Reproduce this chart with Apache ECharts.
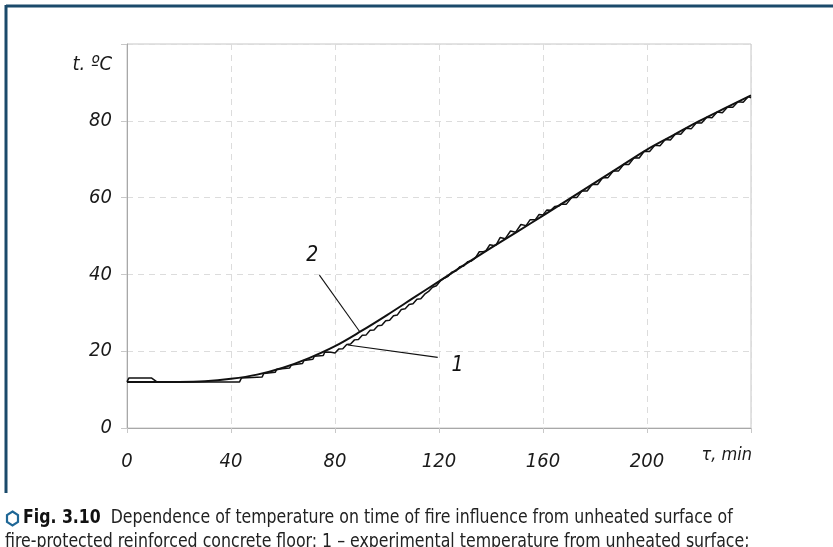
<!DOCTYPE html>
<html><head><meta charset="utf-8">
<script src="https://cdn.jsdelivr.net/npm/echarts@6/dist/echarts.min.js"></script>
<style>html,body{margin:0;padding:0;background:#fff;overflow:hidden}#c{width:833px;height:547px}</style>
</head><body><div id="c"></div>
<script>
// Axis ticks
const xTicks = [0, 40, 80, 120, 160, 200, 240];
const yTicks = [0, 20, 40, 60, 80, 100];
// Curve 2 – calculated temperature (time, °C)
const calcTime = [0,10,20,30,40,50,60,70,80,90,100,110,120,130,140,150,160,170,180,190,200,210,220,230,240];
const calcTemp = [12,12,12.0,12.15,12.8,13.9,15.7,18.2,21.3,25.2,29.4,33.8,38.2,42.6,46.9,51.1,55.3,59.6,63.9,68.2,72.5,76.2,79.9,83.3,86.6];
// Curve 1 – experimental temperature (time, °C)
const expTime = [0,0.7,9.5,11.5,43.3,44,52,52.6,57,57.6,62.5,63.2,67.5,68.1,71.5,72.1,75.5,76.1,78.5,80,81.5,83,84.5,86,87.5,89,90.5,92,93.5,95,96.5,98,99.5,101,102.5,104,105.5,107,108.5,110,111.5,113,114.5,116,117.5,119,120.5,122,123.5,125,126.5,128,129.5,131,132.5,134,135.5,137,138,139.5,141,142,143.5,145.5,147.5,149.5,151.5,153.5,155,157,158.5,160,161.5,163,164.5,166,167,169,171,173,175,177,179,181,183,185,187,189,191,193,195,197,199,201,203,205,207,209,211,213,215,217,219,221,223,225,227,229,231,233,235,237,239,240];
const expTemp = [12.0,13.0,13.0,12.0,12.0,13.0,13.3,14.2,14.5,15.3,15.6,16.4,16.8,17.6,17.9,18.7,18.9,19.8,19.7,19.55,20.6,20.65,21.75,21.85,22.95,23.05,24.15,24.25,25.45,25.55,26.65,26.75,27.95,28.05,29.25,29.45,30.85,31.05,32.15,32.35,33.55,33.65,34.85,35.55,36.65,37.05,38.3,39.0,39.5,40.6,40.9,42.0,42.2,43.3,43.5,44.3,45.9,45.9,46.1,47.7,47.5,47.7,49.6,49.3,51.3,51.0,53.0,52.7,54.2,54.2,55.6,55.5,56.8,56.7,57.7,57.8,58.3,58.3,60.0,60.0,61.75,61.7,63.5,63.4,65.2,65.2,66.9,66.9,68.6,68.6,70.35,70.3,72.1,72.0,73.6,73.5,75.1,75.0,76.6,76.5,78.05,77.9,79.5,79.4,80.9,80.8,82.3,82.1,83.6,83.5,84.95,84.8,86.3,86.0];
// Annotation leaders: [[x1,y1],[x2,y2]] in data units, and label anchors
const leaderLines = [[[74.0, 39.8], [89.4, 25.2]], [[84.9, 21.6], [119.5, 18.4]]];
const curveLabels = [{name: '2', coord: [71.3, 45.0]}, {name: '1', coord: [127.1, 16.2]}];
const yAxisName = 't. ºC';
const xAxisName = 'τ, min';
const captionBold = 'Fig. 3.10';
const captionLine1 = 'Dependence of temperature on time of fire influence from unheated surface of';
const captionLine2 = 'fire-protected reinforced concrete floor: 1 – experimental temperature from unheated surface;';

const FONT = "'Liberation Sans Narrow','DejaVu Sans Condensed','Roboto',sans-serif";
const chart = echarts.init(document.getElementById('c'), null, {renderer: 'canvas'});
const zip = (a, b) => a.map((v, i) => [v, b[i]]);

chart.setOption({
  animation: false,
  backgroundColor: '#fff',
  grid: {left: 127, right: 82, top: 44, bottom: 119, show: true, borderColor: '#c6c6c6', borderWidth: 1},
  xAxis: {
    type: 'value', min: xTicks[0], max: xTicks[xTicks.length - 1], interval: 40,
    axisLine: {show: true, lineStyle: {color: '#a8a8a8', width: 1}},
    axisTick: {show: true, length: 5, lineStyle: {color: '#c8c8c8'}},
    splitLine: {show: true, lineStyle: {color: '#dcdcdc', type: [6, 5], width: 1}},
    axisLabel: {margin: 24, color: '#1a1a1a', fontSize: 20, fontStyle: 'italic', fontFamily: FONT,
      formatter: v => (v === 240 ? '' : String(v))},
    name: xAxisName, nameLocation: 'end', nameGap: 1,
    nameTextStyle: {color: '#1a1a1a', fontSize: 18, fontStyle: 'italic', fontFamily: FONT, align: 'right', verticalAlign: 'top', padding: [18, 0, 0, 0]}
  },
  yAxis: {
    type: 'value', min: yTicks[0], max: yTicks[yTicks.length - 1], interval: 20,
    axisLine: {show: true, lineStyle: {color: '#a8a8a8', width: 1}},
    axisTick: {show: true, length: 6, lineStyle: {color: '#c8c8c8'}},
    splitLine: {show: true, lineStyle: {color: '#dcdcdc', type: [6, 5], width: 1}},
    axisLabel: {margin: 15, color: '#1a1a1a', fontSize: 20, fontStyle: 'italic', fontFamily: FONT,
      formatter: v => (v === 100 ? '' : String(v))},
    name: yAxisName, nameLocation: 'end', nameGap: -21,
    nameTextStyle: {color: '#1a1a1a', fontSize: 20, fontStyle: 'italic', fontFamily: FONT, align: 'right', verticalAlign: 'middle', padding: [0, 15, 0, 0]}
  },
  series: [
    {
      name: 'calc', type: 'line', data: zip(calcTime, calcTemp), smooth: 0.35, showSymbol: false,
      lineStyle: {color: '#111', width: 2}, z: 3,
      markLine: {silent: true, symbol: ['none', 'none'], label: {show: false},
        lineStyle: {color: '#111', width: 1.1, type: 'solid'},
        data: leaderLines.map(l => [{coord: l[0]}, {coord: l[1]}])},
      markPoint: {silent: true, symbol: 'circle', symbolSize: 0,
        label: {show: true, position: 'inside', formatter: p => p.name, color: '#111', fontSize: 21, fontStyle: 'italic', fontFamily: FONT},
        data: curveLabels.map(c => ({name: c.name, coord: c.coord}))}
    },
    {
      name: 'exp', type: 'line', data: zip(expTime, expTemp), smooth: false, showSymbol: false,
      lineStyle: {color: '#111', width: 1.5}, z: 2
    }
  ],
  graphic: [
    {type: 'line', shape: {x1: 6, y1: 6, x2: 840, y2: 6}, style: {stroke: '#1b4a6b', lineWidth: 3}},
    {type: 'line', shape: {x1: 6, y1: 5, x2: 6, y2: 493}, style: {stroke: '#1b4a6b', lineWidth: 3}},
    {type: 'polygon', shape: {points: [[12.5, 511.5], [18, 515], [18, 522], [12.5, 525.5], [7, 522], [7, 515]]},
      style: {fill: 'none', stroke: '#1f6796', lineWidth: 2.2}},
    {type: 'text', x: 23, y: 508, scaleX: 0.875, style: {
      text: '{b|' + captionBold + '}  ' + captionLine1,
      fill: '#222', fontSize: 20, fontFamily: FONT,
      rich: {b: {fontWeight: 'bold', fontSize: 20, fontFamily: FONT, fill: '#111'}}}},
    {type: 'text', x: 5, y: 532, scaleX: 0.877, style: {text: captionLine2, fill: '#222', fontSize: 20, fontFamily: FONT}}
  ]
});
</script>
</body></html>
